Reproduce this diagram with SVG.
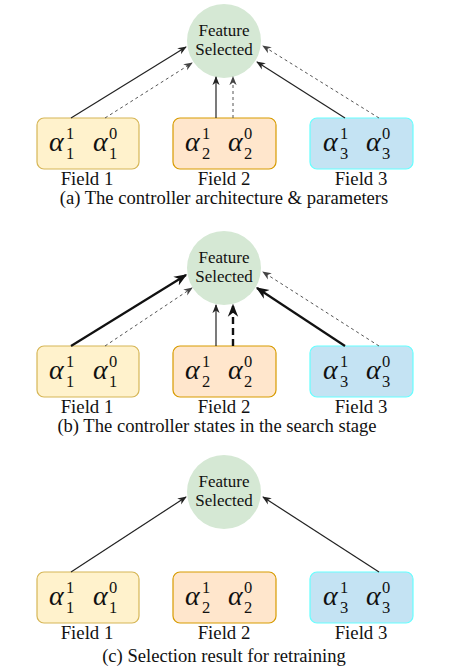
<svg xmlns="http://www.w3.org/2000/svg" width="470" height="670" viewBox="0 0 470 670">
<style>
.circ{fill:#d5e8d4;stroke:none}
.b1{fill:#fff2cc;stroke:#d6b656;stroke-width:1.2}
.b2{fill:#ffe6cc;stroke:#d79b00;stroke-width:1.2}
.b3{fill:#c4e3f3;stroke:#66ffff;stroke-width:1.2}
text{font-family:'Liberation Serif','Times New Roman',serif;fill:#111}
.lbl{font-size:17px;text-anchor:middle}
.fld{font-size:18.8px;text-anchor:middle}
.cap{font-size:18.6px;text-anchor:middle}
.al{font-style:italic;font-size:28px}
.sc{font-size:16.5px}
.s{fill:none;stroke:#222;stroke-width:1.2}
.st{fill:none;stroke:#111;stroke-width:2.2}
.d{fill:none;stroke:#555;stroke-width:1;stroke-dasharray:3 3}
.dt{fill:none;stroke:#111;stroke-width:2.4;stroke-dasharray:7 4}
</style>
<defs>
<marker id="ah" viewBox="0 0 10 10" refX="9" refY="5" markerWidth="9" markerHeight="9" markerUnits="userSpaceOnUse" orient="auto">
<path d="M0,1 L10,5 L0,9 L3,5 z" fill="#222"/>
</marker>
<marker id="ahd" viewBox="0 0 10 10" refX="9" refY="5" markerWidth="9" markerHeight="9" markerUnits="userSpaceOnUse" orient="auto">
<path d="M0,1 L10,5 L0,9 L3,5 z" fill="#444"/>
</marker>
<marker id="ahb" viewBox="0 0 10 10" refX="9" refY="5" markerWidth="13" markerHeight="13" markerUnits="userSpaceOnUse" orient="auto">
<path d="M0,1 L10,5 L0,9 L3,5 z" fill="#111"/>
</marker>
</defs>

<!-- Panel a -->
<g id="a-feature"><circle class="circ" cx="224" cy="41" r="37"/><text class="lbl" x="224" y="36">Feature</text><text class="lbl" x="224" y="55">Selected</text></g>
<g id="a-field1"><rect class="b1" x="37" y="118" width="102" height="51" rx="7"/>
<text class="al" x="49" y="151">α</text><text class="sc" x="66" y="139">1</text><text class="sc" x="66" y="159">1</text>
<text class="al" x="93" y="151">α</text><text class="sc" x="109" y="139">0</text><text class="sc" x="109" y="159">1</text>
<text class="fld" x="87" y="185">Field 1</text></g>
<g id="a-field2"><rect class="b2" x="173" y="118" width="103" height="51" rx="7"/>
<text class="al" x="185" y="151">α</text><text class="sc" x="202" y="139">1</text><text class="sc" x="202" y="159">2</text>
<text class="al" x="228" y="151">α</text><text class="sc" x="244" y="139">0</text><text class="sc" x="244" y="159">2</text>
<text class="fld" x="224" y="185">Field 2</text></g>
<g id="a-field3"><rect class="b3" x="310" y="118" width="103" height="51" rx="7"/>
<text class="al" x="323" y="151">α</text><text class="sc" x="340" y="139">1</text><text class="sc" x="340" y="159">3</text>
<text class="al" x="366" y="151">α</text><text class="sc" x="382" y="139">0</text><text class="sc" x="382" y="159">3</text>
<text class="fld" x="361" y="185">Field 3</text></g>
<text class="cap" x="224" y="204">(a) The controller architecture &amp; parameters</text>
<g id="a-edges">
<line class="s" x1="71" y1="118" x2="186" y2="47" marker-end="url(#ah)"/>
<line class="d" x1="105" y1="118" x2="192" y2="63" marker-end="url(#ahd)"/>
<line class="s" x1="216" y1="118" x2="216" y2="77" marker-end="url(#ah)"/>
<line class="d" x1="233" y1="118" x2="233" y2="77" marker-end="url(#ahd)"/>
<line class="s" x1="345" y1="118" x2="257" y2="62" marker-end="url(#ah)"/>
<line class="d" x1="379" y1="118" x2="263" y2="46" marker-end="url(#ahd)"/>
</g>

<!-- Panel b -->
<g id="b-feature"><circle class="circ" cx="224" cy="268" r="37"/><text class="lbl" x="224" y="263">Feature</text><text class="lbl" x="224" y="282">Selected</text></g>
<g id="b-field1"><rect class="b1" x="37" y="346" width="102" height="51" rx="7"/>
<text class="al" x="49" y="379">α</text><text class="sc" x="66" y="367">1</text><text class="sc" x="66" y="387">1</text>
<text class="al" x="93" y="379">α</text><text class="sc" x="109" y="367">0</text><text class="sc" x="109" y="387">1</text>
<text class="fld" x="87" y="413">Field 1</text></g>
<g id="b-field2"><rect class="b2" x="173" y="346" width="103" height="51" rx="7"/>
<text class="al" x="185" y="379">α</text><text class="sc" x="202" y="367">1</text><text class="sc" x="202" y="387">2</text>
<text class="al" x="228" y="379">α</text><text class="sc" x="244" y="367">0</text><text class="sc" x="244" y="387">2</text>
<text class="fld" x="224" y="413">Field 2</text></g>
<g id="b-field3"><rect class="b3" x="310" y="346" width="103" height="51" rx="7"/>
<text class="al" x="323" y="379">α</text><text class="sc" x="340" y="367">1</text><text class="sc" x="340" y="387">3</text>
<text class="al" x="366" y="379">α</text><text class="sc" x="382" y="367">0</text><text class="sc" x="382" y="387">3</text>
<text class="fld" x="361" y="413">Field 3</text></g>
<text class="cap" x="217" y="432">(b) The controller states in the search stage</text>
<g id="b-edges">
<line class="st" x1="71" y1="346" x2="186" y2="275" marker-end="url(#ahb)"/>
<line class="d" x1="105" y1="346" x2="192" y2="288" marker-end="url(#ahd)"/>
<line class="s" x1="216" y1="346" x2="216" y2="305" marker-end="url(#ah)"/>
<line class="dt" x1="233" y1="346" x2="233" y2="305" marker-end="url(#ahb)"/>
<line class="st" x1="345" y1="346" x2="257" y2="288" marker-end="url(#ahb)"/>
<line class="d" x1="379" y1="346" x2="263" y2="272" marker-end="url(#ahd)"/>
</g>

<!-- Panel c -->
<g id="c-feature"><circle class="circ" cx="224" cy="492" r="37"/><text class="lbl" x="224" y="487">Feature</text><text class="lbl" x="224" y="506">Selected</text></g>
<g id="c-field1"><rect class="b1" x="37" y="572" width="102" height="51" rx="7"/>
<text class="al" x="49" y="605">α</text><text class="sc" x="66" y="593">1</text><text class="sc" x="66" y="613">1</text>
<text class="al" x="93" y="605">α</text><text class="sc" x="109" y="593">0</text><text class="sc" x="109" y="613">1</text>
<text class="fld" x="87" y="639">Field 1</text></g>
<g id="c-field2"><rect class="b2" x="173" y="572" width="103" height="51" rx="7"/>
<text class="al" x="185" y="605">α</text><text class="sc" x="202" y="593">1</text><text class="sc" x="202" y="613">2</text>
<text class="al" x="228" y="605">α</text><text class="sc" x="244" y="593">0</text><text class="sc" x="244" y="613">2</text>
<text class="fld" x="224" y="639">Field 2</text></g>
<g id="c-field3"><rect class="b3" x="310" y="572" width="103" height="51" rx="7"/>
<text class="al" x="323" y="605">α</text><text class="sc" x="340" y="593">1</text><text class="sc" x="340" y="613">3</text>
<text class="al" x="366" y="605">α</text><text class="sc" x="382" y="593">0</text><text class="sc" x="382" y="613">3</text>
<text class="fld" x="361" y="639">Field 3</text></g>
<text class="cap" x="224" y="662">(c) Selection result for retraining</text>
<g id="c-edges">
<line class="s" x1="71" y1="572" x2="186" y2="497" marker-end="url(#ah)"/>
<line class="s" x1="379" y1="572" x2="263" y2="497" marker-end="url(#ah)"/>
</g>
</svg>
